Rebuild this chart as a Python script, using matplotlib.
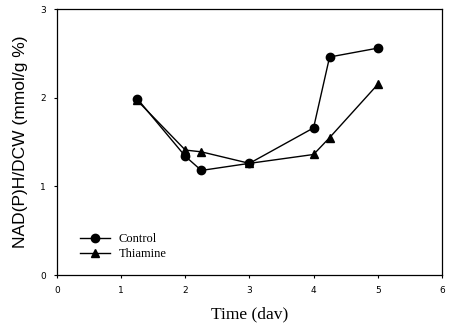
import matplotlib
matplotlib.use("Agg")
import matplotlib.pyplot as plt

# time points (day)
days = [1.25, 2.0, 2.25, 3.0, 4.0, 4.25, 5.0]
control = [1.99, 1.34, 1.18, 1.26, 1.66, 2.46, 2.56]
thiamine = [1.97, 1.41, 1.39, 1.26, 1.36, 1.55, 2.15]

fig = plt.figure(figsize=(4.49, 3.27), dpi=100)
ax = fig.add_axes([0.127, 0.159, 0.857, 0.813])

ax.plot(days, control, "-o", color="black", lw=1, ms=6, label="Control")
ax.plot(days, thiamine, "-^", color="black", lw=1, ms=6, label="Thiamine")

ax.set_xlim(0, 6)
ax.set_ylim(0, 3)
ax.set_xticks(range(0, 7))
ax.set_yticks(range(0, 4))
ax.tick_params(direction="out", length=2, width=0.8, labelsize=6.5, pad=6)
for s in ax.spines.values():
    s.set_linewidth(0.9)

serif = "Liberation Serif"
ax.set_xlabel("Time (dav)", family=serif, fontsize=12.5, labelpad=8)
ax.set_ylabel("NAD(P)H/DCW (mmol/g %)", family="Liberation Sans", fontsize=12.5,
              labelpad=9)

leg = ax.legend(loc="lower left", bbox_to_anchor=(0.06, 0.055), frameon=False,
                borderaxespad=0, borderpad=0,
                prop={"family": serif, "size": 9}, handlelength=2.4,
                labelspacing=0.25, handletextpad=0.7)

fig.savefig("out.png", dpi=100)
